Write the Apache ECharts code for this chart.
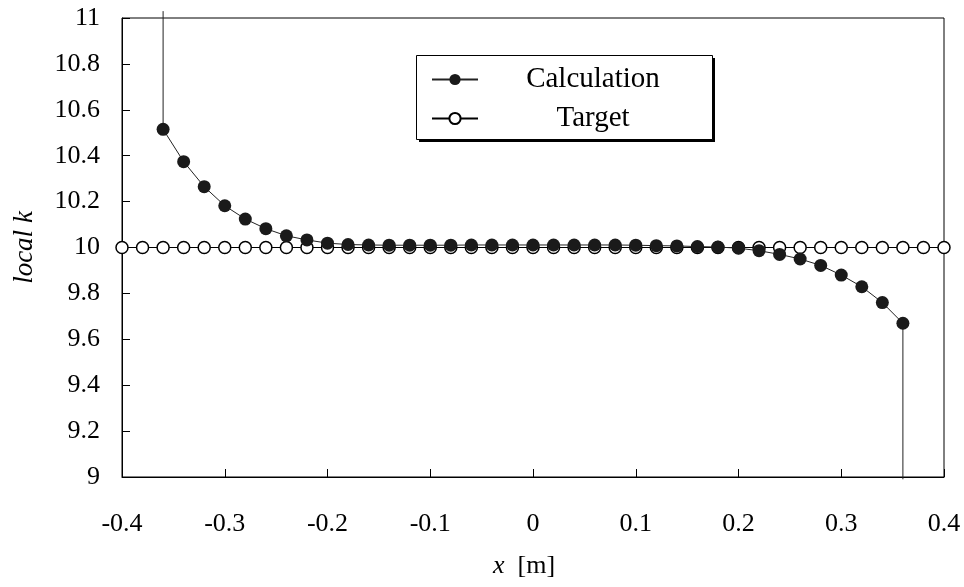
<!DOCTYPE html>
<html>
<head>
<meta charset="utf-8">
<script src="https://cdn.jsdelivr.net/npm/echarts@6/dist/echarts.min.js"></script>
<style>
  html, body { margin: 0; padding: 0; background: #fff; }
  #chart { width: 964px; height: 587px; }
</style>
</head>
<body>
<div id="chart"></div>
<script>
// Positions along the bar [m]
const calcX = [-0.36, -0.34, -0.32, -0.30, -0.28, -0.26, -0.24, -0.22, -0.20, -0.18,
               -0.16, -0.14, -0.12, -0.10, -0.08, -0.06, -0.04, -0.02, 0.00, 0.02,
               0.04, 0.06, 0.08, 0.10, 0.12, 0.14, 0.16, 0.18, 0.20, 0.22,
               0.24, 0.26, 0.28, 0.30, 0.32, 0.34, 0.36];
// Computed local k
const calcK = [10.515, 10.374, 10.265, 10.182, 10.124, 10.082, 10.051, 10.033, 10.019, 10.013,
               10.011, 10.010, 10.010, 10.010, 10.010, 10.011, 10.011, 10.011, 10.011, 10.011,
               10.011, 10.011, 10.011, 10.010, 10.008, 10.007, 10.004, 10.002, 9.997, 9.986,
               9.970, 9.950, 9.922, 9.880, 9.829, 9.760, 9.670];
// Boundary jumps at both ends of the computed curve
const edgeLeft = [-0.36, 11.03];
const edgeRight = [0.36, 8.99];

const targetX = [-0.40, -0.38, -0.36, -0.34, -0.32, -0.30, -0.28, -0.26, -0.24, -0.22,
                 -0.20, -0.18, -0.16, -0.14, -0.12, -0.10, -0.08, -0.06, -0.04, -0.02,
                 0.00, 0.02, 0.04, 0.06, 0.08, 0.10, 0.12, 0.14, 0.16, 0.18,
                 0.20, 0.22, 0.24, 0.26, 0.28, 0.30, 0.32, 0.34, 0.36, 0.38, 0.40];
const targetK = [10, 10, 10, 10, 10, 10, 10, 10, 10, 10,
                 10, 10, 10, 10, 10, 10, 10, 10, 10, 10,
                 10, 10, 10, 10, 10, 10, 10, 10, 10, 10,
                 10, 10, 10, 10, 10, 10, 10, 10, 10, 10, 10];

const font = '"Liberation Serif", "Times New Roman", serif';

const calcData = [{ value: edgeLeft, symbol: 'none' }]
  .concat(calcX.map((x, i) => [x, calcK[i]]))
  .concat([{ value: edgeRight, symbol: 'none' }]);
const targetData = targetX.map((x, i) => [x, targetK[i]]);

const chart = echarts.init(document.getElementById('chart'), null, { renderer: 'canvas' });
chart.setOption({
  animation: false,
  backgroundColor: '#ffffff',
  grid: {
    left: 122, right: 20, top: 18, bottom: 110,
    show: true, borderColor: '#000', borderWidth: 1, backgroundColor: 'transparent'
  },
  // Legend frame with a hard drop shadow
  graphic: [
    { type: 'rect', z: 0, shape: { x: 419, y: 58, width: 296, height: 84 }, style: { fill: '#000' } },
    { type: 'rect', z: 1, shape: { x: 416.5, y: 55.5, width: 296, height: 84 },
      style: { fill: '#fff', stroke: '#000', lineWidth: 1 } }
  ],
  xAxis: {
    type: 'value', min: -0.4, max: 0.4, interval: 0.1,
    name: '{i|x}  [m]', nameLocation: 'middle', nameGap: 76,
    nameTextStyle: {
      fontFamily: font, fontSize: 26, color: '#000', padding: [0, 18, 0, 0],
      rich: { i: { fontFamily: font, fontSize: 26, fontStyle: 'italic', color: '#000' } }
    },
    axisLine: { show: true, onZero: false, lineStyle: { color: '#000', width: 1 } },
    axisTick: { show: true, inside: true, length: 8, lineStyle: { color: '#000' } },
    axisLabel: { fontFamily: font, fontSize: 26, color: '#000', margin: 34 },
    splitLine: { show: false }
  },
  yAxis: {
    type: 'value', min: 9, max: 11, interval: 0.2,
    name: 'local k', nameLocation: 'middle', nameGap: 84, nameRotate: 90,
    nameTextStyle: { fontFamily: font, fontSize: 27, fontStyle: 'italic', color: '#000' },
    axisLine: { show: true, onZero: false, lineStyle: { color: '#000', width: 1 } },
    axisTick: { show: true, inside: true, length: 8, lineStyle: { color: '#000' } },
    axisLabel: { fontFamily: font, fontSize: 26, color: '#000', margin: 22 },
    splitLine: { show: false }
  },
  legend: {
    orient: 'vertical', left: 416, top: 55, z: 5,
    padding: [10, 0, 0, 15], itemGap: 10,
    itemWidth: 46, itemHeight: 14,
    formatter: '{t|{name}}',
    textStyle: {
      fontFamily: font, fontSize: 29, color: '#000',
      rich: { t: { fontFamily: font, fontSize: 29, color: '#000', width: 220, align: 'center', lineHeight: 30 } }
    },
    data: ['Calculation', 'Target']
  },
  series: [
    {
      name: 'Target', type: 'line', data: targetData, z: 2,
      symbol: 'circle', symbolSize: 12, clip: false,
      lineStyle: { color: '#000', width: 1 },
      itemStyle: { color: '#fff', borderColor: '#000', borderWidth: 1.5 }
    },
    {
      name: 'Calculation', type: 'line', data: calcData, z: 3,
      symbol: 'circle', symbolSize: 13, clip: false,
      lineStyle: { color: '#222', width: 1 },
      itemStyle: { color: '#1a1a1a', borderColor: '#1a1a1a', borderWidth: 0 }
    }
  ]
});
</script>
</body>
</html>
